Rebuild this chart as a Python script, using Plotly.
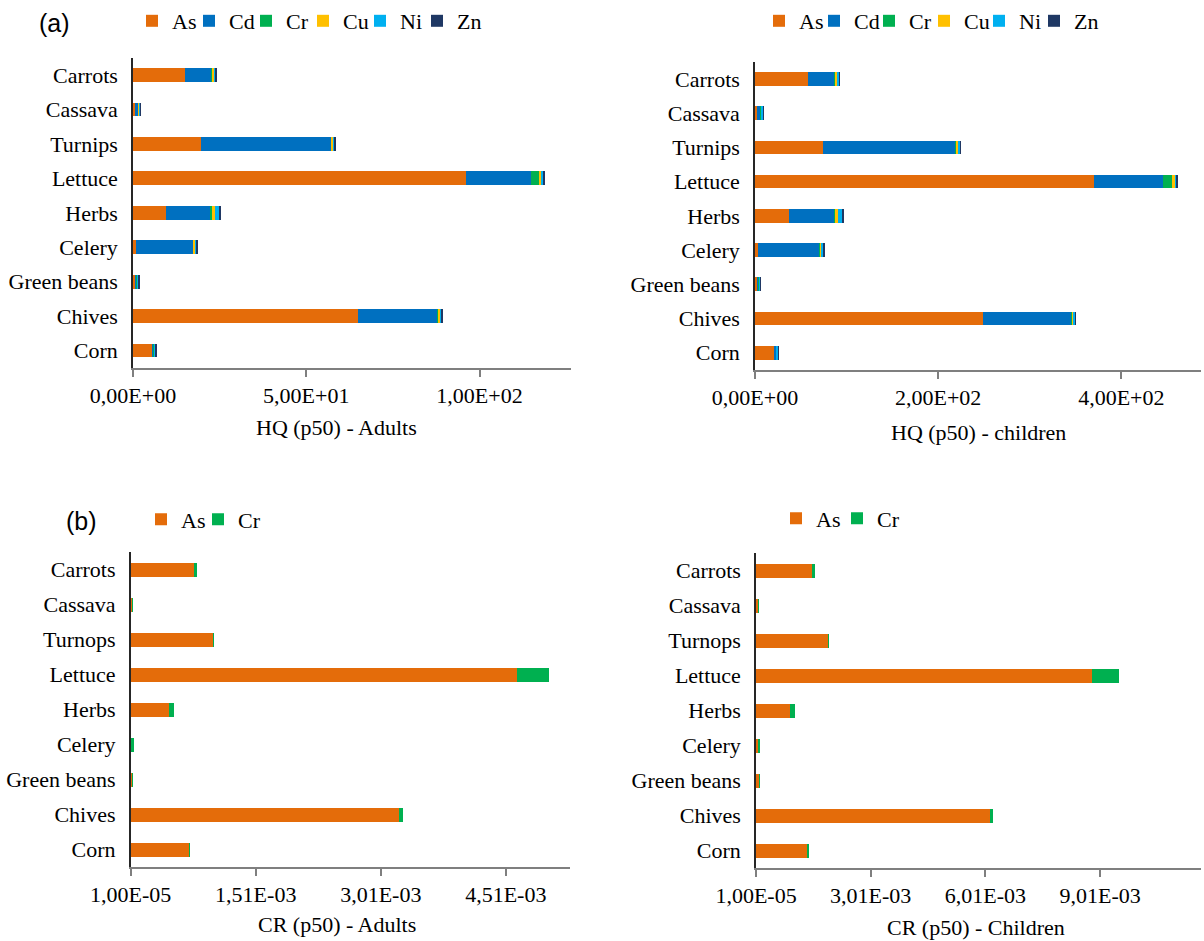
import plotly.graph_objects as go

# Vegetables, top to bottom
crops_hq = ["Carrots", "Cassava", "Turnips", "Lettuce", "Herbs", "Celery", "Green beans", "Chives", "Corn"]
crops_cr = ["Carrots", "Cassava", "Turnops", "Lettuce", "Herbs", "Celery", "Green beans", "Chives", "Corn"]

metals_hq = ["As", "Cd", "Cr", "Cu", "Ni", "Zn"]
metals_cr = ["As", "Cr"]

# HQ (p50) - Adults
hq_adults = {
    "As": [14.9, 0.5, 19.7, 96.2, 9.6, 0.9, 0.7, 64.8, 5.6],
    "Cd": [7.7, 1.0, 37.5, 18.6, 12.8, 16.5, 0.2, 23.1, 0.4],
    "Cr": [0.1, 0.05, 0.1, 2.4, 0.5, 0.1, 0.3, 0.1, 0.1],
    "Cu": [0.6, 0.1, 0.5, 0.8, 0.8, 0.5, 0.2, 0.6, 0.1],
    "Ni": [0.6, 0.6, 0.4, 0.5, 1.0, 0.3, 0.3, 0.5, 0.4],
    "Zn": [0.1, 0.05, 0.3, 0.5, 0.6, 0.4, 0.1, 0.1, 0.05],
}

# HQ (p50) - children
hq_children = {
    "As": [57.9, 2.5, 74.6, 370.1, 37.1, 2.9, 2.9, 249.3, 21.8],
    "Cd": [29.1, 4.0, 144.8, 75.7, 49.5, 67.3, 0.6, 96.8, 1.5],
    "Cr": [0.3, 0.2, 0.3, 9.5, 1.1, 0.3, 1.0, 0.3, 0.2],
    "Cu": [2.5, 0.3, 2.2, 2.9, 3.3, 2.2, 0.8, 1.8, 0.3],
    "Ni": [2.2, 2.2, 2.0, 2.2, 3.6, 1.0, 0.8, 2.0, 1.8],
    "Zn": [0.3, 0.3, 0.5, 1.1, 2.2, 2.9, 0.1, 0.2, 0.1],
}

# CR (p50) - Adults
cr_adults = {
    "As": [7.70e-4, 2.5e-5, 9.94e-4, 4.65e-3, 4.70e-4, 1.5e-5, 2.5e-5, 3.233e-3, 7.06e-4],
    "Cr": [3.0e-5, 0.8e-5, 0.8e-5, 3.76e-4, 5.6e-5, 3.5e-5, 0.9e-5, 4.1e-5, 0.5e-5],
}

# CR (p50) - Children
cr_children = {
    "As": [1.475e-3, 8.0e-5, 1.894e-3, 8.808e-3, 9.08e-4, 8.0e-5, 9.0e-5, 6.123e-3, 1.362e-3],
    "Cr": [7.8e-5, 0.8e-5, 1.5e-5, 7.07e-4, 1.22e-4, 4.3e-5, 0.7e-5, 9.7e-5, 1.0e-5],
}

# Axis tick labels
hq_adults_ticks = [0, 50, 100]
hq_adults_ticktext = ["0,00E+00", "5,00E+01", "1,00E+02"]
hq_children_ticks = [0, 200, 400]
hq_children_ticktext = ["0,00E+00", "2,00E+02", "4,00E+02"]
cr_adults_ticks = [1.0e-5, 1.51e-3, 3.01e-3, 4.51e-3]
cr_adults_ticktext = ["1,00E-05", "1,51E-03", "3,01E-03", "4,51E-03"]
cr_children_ticks = [1.0e-5, 3.01e-3, 6.01e-3, 9.01e-3]
cr_children_ticktext = ["1,00E-05", "3,01E-03", "6,01E-03", "9,01E-03"]

colors = {
    "As": "#E46C0A",
    "Cd": "#0070C0",
    "Cr": "#00B050",
    "Cu": "#FFC000",
    "Ni": "#00B0F0",
    "Zn": "#1F3864",
}

SERIF = "Liberation Serif"
FS = 22
W, H = 1204, 941

fig = go.Figure()

panels = [
    # data, categories, metals, xaxis, yaxis, legend
    (hq_adults, crops_hq, metals_hq, "x", "y", "legend"),
    (hq_children, crops_hq, metals_hq, "x2", "y2", "legend2"),
    (cr_adults, crops_cr, metals_cr, "x3", "y3", "legend3"),
    (cr_children, crops_cr, metals_cr, "x4", "y4", "legend4"),
]

for data, cats, metals, xa, ya, lg in panels:
    for m in metals:
        fig.add_trace(go.Bar(
            y=cats, x=data[m], name=m, orientation="h",
            marker=dict(color=colors[m], line=dict(width=0)),
            xaxis=xa, yaxis=ya, legend=lg,
        ))
    # blank trailing legend slot (zero-length bar) so the last label is not
    # clipped by the narrow fixed entry width
    fig.add_trace(go.Bar(
        y=[cats[0]], x=[0], name=" ", orientation="h",
        marker=dict(color="rgba(0,0,0,0)", line=dict(width=0)),
        xaxis=xa, yaxis=ya, legend=lg, hoverinfo="skip",
    ))


def px_x(p):
    return p / W


def px_y(p):
    return 1 - p / H


def xaxis(domain, rng, tv, tt, anchor):
    return dict(
        domain=domain, range=rng, tickvals=tv, ticktext=tt, anchor=anchor,
        automargin=False,
        showgrid=False, zeroline=False, showline=True, linecolor="#7F7F7F", linewidth=1.5,
        ticks="outside", ticklen=7, tickwidth=1.5, tickcolor="#7F7F7F",
        tickfont=dict(family=SERIF, size=FS, color="#000000"),
    )


def yaxis(domain, anchor):
    return dict(
        domain=domain, anchor=anchor, autorange=False, range=[8.5, -0.5],
        automargin=False,
        showgrid=False, zeroline=False, showline=True, linecolor="#262626", linewidth=1.5,
        ticks="", ticklabelstandoff=9,
        tickfont=dict(family=SERIF, size=FS, color="#000000"),
    )


def legend(x, y, entry):
    # entrywidth covers the text part of each item only
    return dict(
        x=px_x(x), y=px_y(y),
        orientation="h", xanchor="left", yanchor="middle", traceorder="normal",
        font=dict(family=SERIF, size=FS, color="#000000"),
        bgcolor="rgba(0,0,0,0)", itemwidth=30, tracegroupgap=0,
        entrywidth=entry, entrywidthmode="pixels",
    )


fig.update_layout(
    width=W, height=H,
    margin=dict(l=0, r=0, t=0, b=0),
    paper_bgcolor="white", plot_bgcolor="white",
    barmode="stack", bargap=0.6,
    xaxis=xaxis([px_x(133), px_x(571)], [0, 126.4], hq_adults_ticks, hq_adults_ticktext, "y"),
    yaxis=yaxis([px_y(366), px_y(55)], "x"),
    xaxis2=xaxis([px_x(755), px_x(1201)], [0, 487], hq_children_ticks, hq_children_ticktext, "y2"),
    yaxis2=yaxis([px_y(368), px_y(59)], "x2"),
    xaxis3=xaxis([px_x(130.7), px_x(570)], [1.0e-5, 5.28e-3], cr_adults_ticks, cr_adults_ticktext, "y3"),
    yaxis3=yaxis([px_y(867), px_y(551)], "x3"),
    xaxis4=xaxis([px_x(756), px_x(1201)], [1.0e-5, 1.165e-2], cr_children_ticks, cr_children_ticktext, "y4"),
    yaxis4=yaxis([px_y(868), px_y(552)], "x4"),
    legend=legend(132, 18, 12),
    legend2=legend(759, 18, 10),
    legend3=legend(141, 518, 12),
    legend4=legend(776, 517, 16),
    showlegend=True,
)

annotations = [
    dict(text="(a)", x=px_x(54), y=px_y(20), font=dict(family="Liberation Sans", size=25, color="#000000")),
    dict(text="(b)", x=px_x(81), y=px_y(520), font=dict(family="Liberation Sans", size=25, color="#000000")),
    dict(text="HQ (p50) - Adults", x=px_x(337), y=px_y(426), font=dict(family=SERIF, size=FS, color="#000000")),
    dict(text="HQ (p50) - children", x=px_x(978), y=px_y(431), font=dict(family=SERIF, size=FS, color="#000000")),
    dict(text="CR (p50) - Adults", x=px_x(337), y=px_y(924), font=dict(family=SERIF, size=FS, color="#000000")),
    dict(text="CR (p50) - Children", x=px_x(976), y=px_y(927), font=dict(family=SERIF, size=FS, color="#000000")),
]
for a in annotations:
    a.update(xref="paper", yref="paper", showarrow=False, xanchor="center", yanchor="middle")
fig.update_layout(annotations=annotations)

fig.write_html("out.html")
